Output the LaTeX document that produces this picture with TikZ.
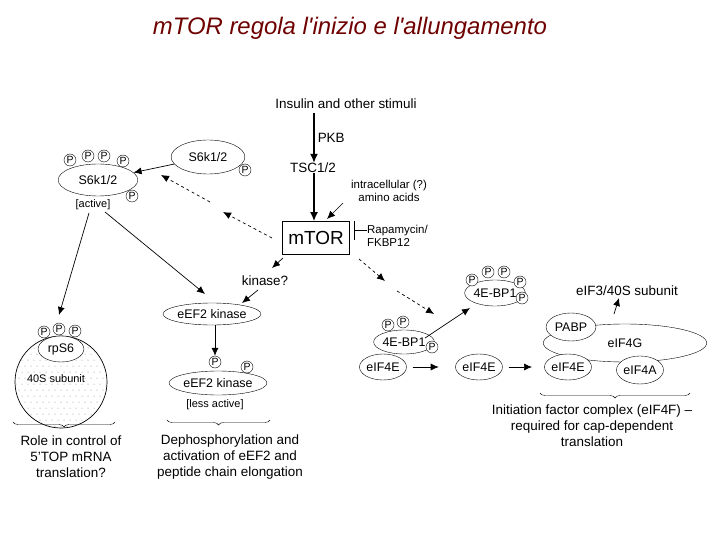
\documentclass[tikz,border=0pt]{standalone}
\usepackage{fontspec}
\setmainfont{Liberation Sans}
\usetikzlibrary{patterns,decorations.pathreplacing,arrows.meta,shapes.geometric}
\definecolor{titlered}{RGB}{110,0,0}
\begin{document}
\begin{tikzpicture}[x=1bp,y=-1bp,
  txt/.style={font=\fontsize{13.5}{16}\selectfont,inner sep=0pt,align=center},
  el/.style={draw,ellipse,minimum width=#1,inner sep=0pt,font=\fontsize{12.5}{14}\selectfont},
  el/.default=40,
  P/.style={draw,circle,fill=white,minimum size=12bp,inner sep=0pt,font=\fontsize{10.5}{11}\selectfont},
  arr/.style={-{Latex[length=8bp,width=7bp]},line width=0.7pt},
  thk/.style={-{Latex[length=9bp,width=8bp]},line width=1.5pt},
  dsh/.style={arr,dashed},
  br/.style={decorate,decoration={brace,amplitude=5bp,mirror}}]
\useasboundingbox (0,0) rectangle (720,540);
\node[font=\fontsize{24}{28}\selectfont\itshape,text=titlered] (title) at (350,28) {mTOR regola l\textquotesingle inizio e l\textquotesingle allungamento};
% top chain
\node[txt] (ins) at (346,104) {Insulin and other stimuli};
\node[txt] (tsc) at (313,168) {TSC1/2};
\node[draw,line width=0.7pt,minimum width=67bp,minimum height=33bp,inner sep=0pt,font=\fontsize{19}{21}\selectfont] (mtor) at (316,238) {mTOR};
\draw[thk] (314,113) -- (tsc.north -| 314,0) node[midway,right=3bp,txt] (pkb) {PKB};
\draw[thk] (tsc.south -| 314,0) -- (mtor.north -| 314,0);
\node[txt,align=center,font=\fontsize{11.5}{13}\selectfont] (aa) at (389,191) {intracellular (?)\\amino acids};
\coordinate (aas) at (343,203);
\draw[arr] (aas) -- (327,219);
\node[txt,align=left,anchor=west,font=\fontsize{11.5}{13}\selectfont] (rapa) at (367,236) {Rapamycin/\\FKBP12};
\draw[line width=0.7pt] (rapa.west) ++(0,-6) -- (354,230);
\draw[line width=0.9pt] (354,221) -- (354,240);
% S6K
\node[el=74,minimum height=34bp] (s6i) at (208,157) {S6k1/2};
\node[P] (pi1) at (245,170) {P};
\node[el=80,minimum height=32bp] (s6a) at (98,180) {S6k1/2};
\foreach \x/\y [count=\i] in {70/160,88/156,104/156,123/161,132/196}{\node[P] (pa\i) at (\x,\y) {P};}
\node[txt,font=\fontsize{11}{12}\selectfont] (act) at (93,205) {[active]};
\draw[arr] (s6i) -- (s6a);
\coordinate (d1) at (223,212);\coordinate (d2) at (210,202);\coordinate (d3) at (161,175);
\draw[dsh] (272,238) -- (d1);
\draw[dsh] (d2) -- (d3);
% 40S
\node[draw,circle,minimum size=92bp,line width=0.7pt] (s40) at (61,382) {};
\begin{scope}
\clip (61,382) circle (45);
\foreach \i in {0,...,15}{\foreach \j in {0,...,15}{\fill[gray] ({16+6*\i+3*mod(\j,2)},{336+6*\j}) circle (0.5);}}
\end{scope}
\node[txt,font=\fontsize{11}{12}\selectfont] (s40t) at (56,379) {40S subunit};
\node[el=46,minimum height=26bp,fill=white] (rps) at (61,349) {rpS6};
\foreach \x/\y [count=\i] in {44/332,59/329,75/331}{\node[P] (pr\i) at (\x,\y) {P};}
\draw[arr] (89,213) -- (59,315);
\draw[br] (13,422) -- (115,422);
\node[txt,align=center] (role) at (71,457) {Role in control of\\5'TOP mRNA\\translation?};
% eEF2
\node[txt] (kin) at (265,281) {kinase?};
\draw[arr] (283,258) -- (272,268);
\node[el=84,minimum height=22bp] (eef) at (212,314) {eEF2 kinase};
\draw[arr] (258,290) -- (242,303);
\draw[arr] (105,212) -- (205,294);
\node[el=80,minimum height=24bp] (eefl) at (218,383) {eEF2 kinase};
\node[P] (pe1) at (215,362) {P};
\node[P] (pe2) at (247,367) {P};
\draw[arr] (eef.south -| 215,0) -- (pe1.north);
\node[txt,font=\fontsize{11}{12}\selectfont] (less) at (215,405) {[less active]};
\draw[br] (167,420) -- (270,420);
\node[txt,align=center] (deph) at (230,457) {Dephosphorylation and\\activation of eEF2 and\\peptide chain elongation};
% 4E-BP1
\draw[dsh] (359,259) -- (385,281);
\draw[dsh] (397,291) -- (434,314);
\node[el=46,minimum height=26bp] (bp2) at (495,293) {4E-BP1};
\foreach \x/\y [count=\i] in {472/280,488/272,504/272,520/282,522/298}{\node[P] (pb\i) at (\x,\y) {P};}
\node[el=46,minimum height=26bp] (e1) at (383,367) {eIF4E};
\node[el=44,minimum height=24bp,fill=white] (bp1) at (404,342) {4E-BP1};
\foreach \x/\y [count=\i] in {388/325,403/322,432/347}{\node[P] (pc\i) at (\x,\y) {P};}
\draw[arr] (425,338) -- (470,308);
\node[el=46,minimum height=26bp] (e2) at (479,367) {eIF4E};
\draw[arr] (e1.east) ++(6,0) -- ++(26,0);
\draw[arr] (e2.east) ++(6,0) -- (532,367);
% complex
\node[el=164,minimum height=38bp] (g4) at (625,343) {eIF4G};
\node[el=50,minimum height=28bp,fill=white] (pabp) at (571,327) {PABP};
\node[el=46,minimum height=26bp,fill=white] (e3) at (568,367) {eIF4E};
\node[el=46,minimum height=28bp,fill=white] (a4) at (640,370) {eIF4A};
\node[txt] (eif3) at (627,291) {eIF3/40S subunit};
\draw[arr] (614,314) -- (619,298);
\draw[br] (540,393) -- (690,393);
\node[txt,align=center] (init) at (592,426) {Initiation factor complex (eIF4F) --\\required for cap-dependent\\translation};
\end{tikzpicture}
\end{document}
